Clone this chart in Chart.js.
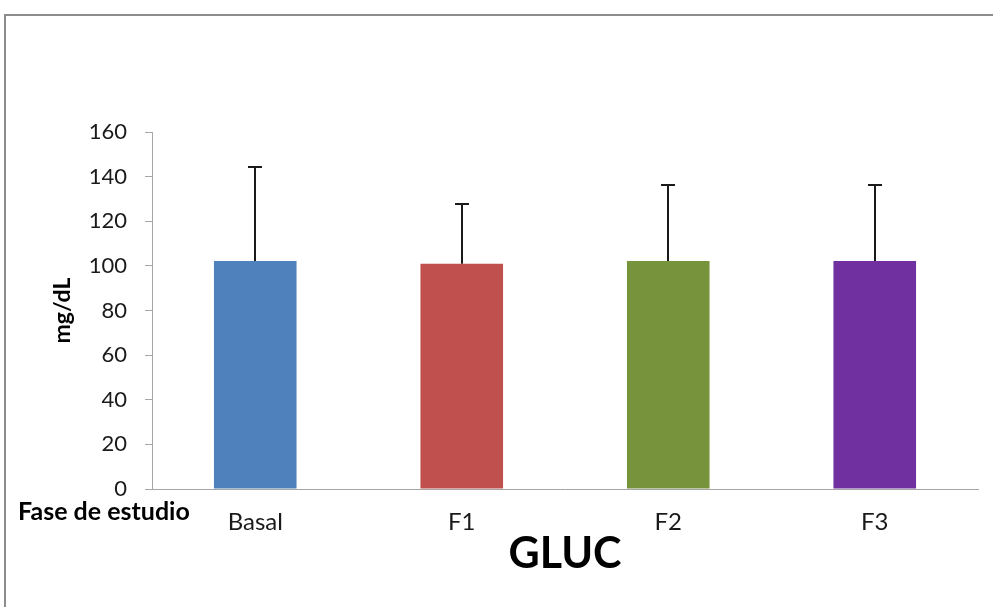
<!DOCTYPE html>
<html><head><meta charset="utf-8">
<script src="https://cdn.jsdelivr.net/npm/chart.js@4/dist/chart.umd.min.js"></script>
<style>
html,body{margin:0;padding:0;background:#fff;}
#wrap{position:relative;width:993px;height:607px;overflow:hidden;}
#frame{position:absolute;left:4px;top:14px;width:1100px;height:700px;border-left:2px solid #8c8c8c;border-top:2px solid #8c8c8c;}
canvas{position:absolute;left:0;top:0;}
</style></head><body>
<div id="wrap"><div id="frame"></div><canvas id="c" width="993" height="607"></canvas></div>
<script>
const categories = ['Basal', 'F1', 'F2', 'F3'];
const means = [102.2, 101.0, 102.2, 102.2];
const sds = [42.3, 26.7, 33.9, 33.9];
const barColors = ['#4F81BD', '#C0504D', '#77933C', '#7030A0'];
const yMin = 0, yMax = 160, yStep = 20;
const chartTitle = 'GLUC';
const yTitle = 'mg/dL';
const xLabel = 'Fase de estudio';

const FONT = 'Lato';
const AXIS = '#a6a6a6';
const TEXT = '#1a1a1a';

const errorBars = {
  id: 'errorBars',
  afterDatasetsDraw(chart) {
    const {ctx, scales: {y}} = chart;
    const meta = chart.getDatasetMeta(0);
    ctx.save();
    ctx.strokeStyle = '#1a1a1a';
    ctx.lineWidth = 2;
    meta.data.forEach((bar, i) => {
      const x = Math.round(bar.x);
      const yb = y.getPixelForValue(means[i]);
      const yt = Math.round(y.getPixelForValue(means[i] + sds[i]));
      ctx.beginPath();
      ctx.moveTo(x, yb); ctx.lineTo(x, yt);
      ctx.moveTo(x - 7, yt); ctx.lineTo(x + 7, yt);
      ctx.stroke();
    });
    ctx.restore();
  }
};

const sideLabel = {
  id: 'sideLabel',
  afterDraw(chart) {
    const {ctx, scales: {y}} = chart;
    ctx.save();
    ctx.font = 'bold 25px ' + FONT;
    ctx.fillStyle = '#000';
    ctx.textBaseline = 'middle';
    ctx.textAlign = 'left';
    ctx.fillText(xLabel, 18, y.getPixelForValue(0) + 23);
    ctx.restore();
  }
};

new Chart(document.getElementById('c'), {
  type: 'bar',
  data: {
    labels: categories,
    datasets: [{
      data: means,
      backgroundColor: barColors,
      borderWidth: 0,
      barPercentage: 0.4,
      categoryPercentage: 1.0
    }]
  },
  options: {
    responsive: false,
    animation: false,
    layout: {padding: {top: 132, right: 15, left: 0, bottom: 0}},
    plugins: {legend: {display: false}, tooltip: {enabled: false}},
    scales: {
      x: {
        afterFit(s) { s.height = 118; },
        grid: {display: true, drawOnChartArea: false, drawTicks: false, color: AXIS},
        border: {display: true, color: AXIS, width: 1},
        ticks: {font: {family: FONT, size: 24}, color: TEXT, padding: 19},
        title: {display: true, text: chartTitle, color: '#000',
          font: {family: FONT, size: 43, weight: 'bold'}, padding: {top: 0, bottom: 27}}
      },
      y: {
        min: yMin, max: yMax,
        afterFit(s) { s.width = 152; },
        ticks: {stepSize: yStep, font: {family: FONT, size: 22}, color: TEXT, padding: 18},
        grid: {drawOnChartArea: false, tickLength: 7, color: AXIS},
        border: {display: true, color: AXIS, width: 1},
        title: {display: true, text: yTitle, color: '#000',
          font: {family: FONT, size: 23, weight: 'bold'}, padding: {top: 49, bottom: 0}}
      }
    }
  },
  plugins: [errorBars, sideLabel]
});
</script>
</body></html>
